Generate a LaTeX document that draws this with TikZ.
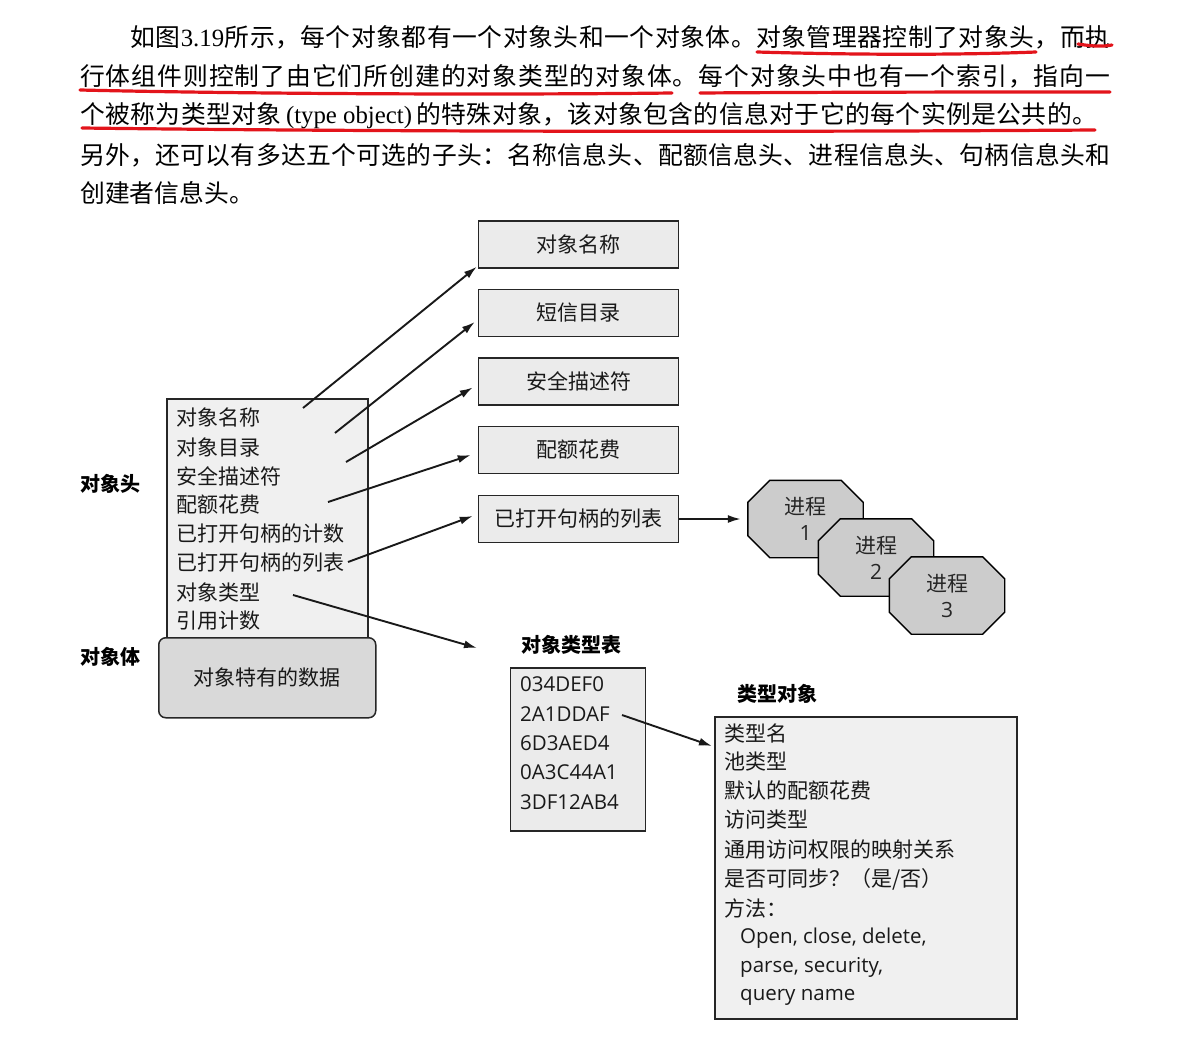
\documentclass[tikz,border=0pt]{standalone}
\usepackage{fontspec}
\setmainfont{Noto Sans CJK SC}
\newfontfamily\latinfont{Open Sans}
\newfontfamily\seriflat{Liberation Serif}
\def\spreadendmarker{\spreadend}
\def\spreadchars#1{\def\spreadtmp{#1}\ifx\spreadtmp\spreadendmarker\else{#1}\hskip 0pt plus 1fil\expandafter\spreadchars\fi}
\newcommand\spreadline[2]{\hbox to #1{\spreadchars#2\spreadend\unskip}}
\usetikzlibrary{arrows.meta,calc}
\definecolor{penred}{HTML}{E3141B}
\newcommand\prococt[4]{%
  \node[minimum width=115, minimum height=77, inner sep=0] (#1) at (#2,#3) {};
  \draw[line width=1.4, fill=gray!40]
    ($(#1.north west)+(22,0)$) -- ($(#1.north east)+(-22,0)$) --
    ($(#1.north east)+(0,22)$) -- ($(#1.south east)+(0,-22)$) --
    ($(#1.south east)+(-22,0)$) -- ($(#1.south west)+(22,0)$) --
    ($(#1.south west)+(0,-22)$) -- ($(#1.north west)+(0,22)$) -- cycle;
  \node[align=center, font=\fontsize{21}{26}\selectfont, text=black!85] at (#1) {进程\\{\latinfont #4}};
}
\begin{document}
\begin{tikzpicture}[x=1pt,y=-1pt,
  para/.style={anchor=west, inner sep=0, font=\fontsize{24.8}{30}\selectfont},
  redline/.style={draw=penred, line width=3.2pt, line cap=round},
  item/.style={anchor=west, inner sep=0, font=\fontsize{21}{24}\selectfont, text=black!90},
  hexitem/.style={anchor=west, inner sep=0, font=\latinfont\fontsize{20.5}{24}\selectfont, text=black!90},
  lbl/.style={inner sep=0, font=\fontsize{20}{24}\selectfont\bfseries},
  rbox/.style={draw=black!85, line width=1.5, fill=gray!16, minimum width=200, minimum height=47, inner sep=0, font=\fontsize{21}{24}\selectfont, text=black!90},
  panel/.style={draw=black!85, line width=1.5, fill=gray!14, inner sep=0, anchor=north west},
  arr/.style={-{Latex[length=13pt,width=8pt]}, line width=1.9pt, draw=black!90},
]
\useasboundingbox[fill=white] (0,0) rectangle (1196,1038);

% ---------- paragraph ----------
\node[para] (t1) at (130,37) {\spreadline{980pt}{如图{\seriflat 3.19}所示，每个对象都有一个对象头和一个对象体。对象管理器控制了对象头，而执}};
\node[para] (t2) at (80,76) {\spreadline{1030pt}{行体组件则控制了由它们所创建的对象类型的对象体。每个对象头中也有一个索引，指向一}};
\node[para] (t3) at (80,116) {\spreadline{1017pt}{个被称为类型对象{\seriflat\kern4pt(type object)\kern4pt}的特殊对象，该对象包含的信息对于它的每个实例是公共的。}};
\node[para] (t4) at (80,155) {\spreadline{1030pt}{另外，还可以有多达五个可选的子头：名称信息头、配额信息头、进程信息头、句柄信息头和}};
\node[para] (t5) at (80,193) {创建者信息头。};

\draw[redline] (757,52) .. controls (860,55) and (960,55) .. (1036,52);
\draw[redline] (1078,44) .. controls (1090,46) and (1102,47) .. (1112,45);
\draw[redline] (80,90) .. controls (250,94) and (500,95) .. (672,93);
\draw[redline] (700,93) .. controls (850,92) and (1000,92) .. (1110,92);
\draw[redline] (82,128) .. controls (400,132) and (800,132) .. (1095,130);

% ---------- object header / body ----------
\node[panel, fill=gray!12, minimum width=201, minimum height=241] (head) at (166,398) {};
\node[item] (i1) at (176,417) {对象名称};
\node[item] (i2) at (176,447) {对象目录};
\node[item] (i3) at (176,476) {安全描述符};
\node[item] (i4) at (176,505) {配额花费};
\node[item] (i5) at (176,534) {已打开句柄的计数};
\node[item] (i6) at (176,563) {已打开句柄的列表};
\node[item] (i7) at (176,592) {对象类型};
\node[item] (i8) at (176,621) {引用计数};

\node[panel, fill=gray!30, rounded corners=7, minimum width=217, minimum height=80,
      font=\fontsize{21}{24}\selectfont, text=black!90] (body) at (158,637) {对象特有的数据};

\node[lbl] (lhead) at (110,484) {对象头};
\node[lbl] (lbody) at (110,657) {对象体};

% ---------- right boxes ----------
\node[rbox] (b1) at (578.5,244.5) {对象名称};
\node[rbox] (b2) at (578.5,313) {短信目录};
\node[rbox] (b3) at (578.5,381.5) {安全描述符};
\node[rbox] (b4) at (578.5,450) {配额花费};
\node[rbox] (b5) at (578.5,519) {已打开句柄的列表};

% ---------- processes ----------
\prococt{p1}{805.5}{519}{1}
\prococt{p2}{876}{557.5}{2}
\prococt{p3}{947}{595.5}{3}

% ---------- object type table ----------
\node[lbl] (ttl) at (571,645) {对象类型表};
\node[panel, fill=gray!16, minimum width=135, minimum height=163] (tt) at (509.5,667) {};
\node[hexitem] (h1) at (520,684) {034DEF0};
\node[hexitem] (h2) at (520,714) {2A1DDAF};
\node[hexitem] (h3) at (520,743) {6D3AED4};
\node[hexitem] (h4) at (520,772) {0A3C44A1};
\node[hexitem] (h5) at (520,802) {3DF12AB4};

% ---------- type object ----------
\node[lbl] (tol) at (777,694) {类型对象};
\node[panel, fill=gray!12, minimum width=302, minimum height=302] (to) at (714,716) {};
\node[item] (o1) at (724,733) {类型名};
\node[item] (o2) at (724,762) {池类型};
\node[item] (o3) at (724,791) {默认的配额花费};
\node[item] (o4) at (724,820) {访问类型};
\node[item] (o5) at (724,850) {通用访问权限的映射关系};
\node[item] (o6) at (724,879) {是否可同步？（是/否）};
\node[item] (o7) at (724,908) {方法：};
\node[hexitem] (o8) at (740,938) {Open, close, delete,};
\node[hexitem] (o9) at (740,967) {parse, security,};
\node[hexitem] (o10) at (740,997) {query name};

% ---------- connectors ----------
\coordinate (a1) at (303,408);
\coordinate (a2) at (335,433);
\coordinate (a3) at (346,462);
\coordinate (a4) at (328,502);
\coordinate (a5) at (348,562);
\coordinate (a6) at (293,595);
\coordinate (a6end) at (477,648);
\coordinate (ht) at (622,715);
\coordinate (htend) at (712,746);

\draw[arr] (a1) -- ($(b1.south west)+(-1,-2)$);
\draw[arr] (a2) -- ($(b2.west)+(-3,9)$);
\draw[arr] (a3) -- ($(b3.west)+(-5,6)$);
\draw[arr] (a4) -- ($(b4.west)+(-7,5)$);
\draw[arr] (a5) -- ($(b5.west)+(-5,-3)$);
\draw[arr] (a6) -- (a6end);
\draw[arr, shorten >=7pt] (b5.east) -- (p1.west);
\draw[arr] (ht) -- (htend);
\end{tikzpicture}
\end{document}
